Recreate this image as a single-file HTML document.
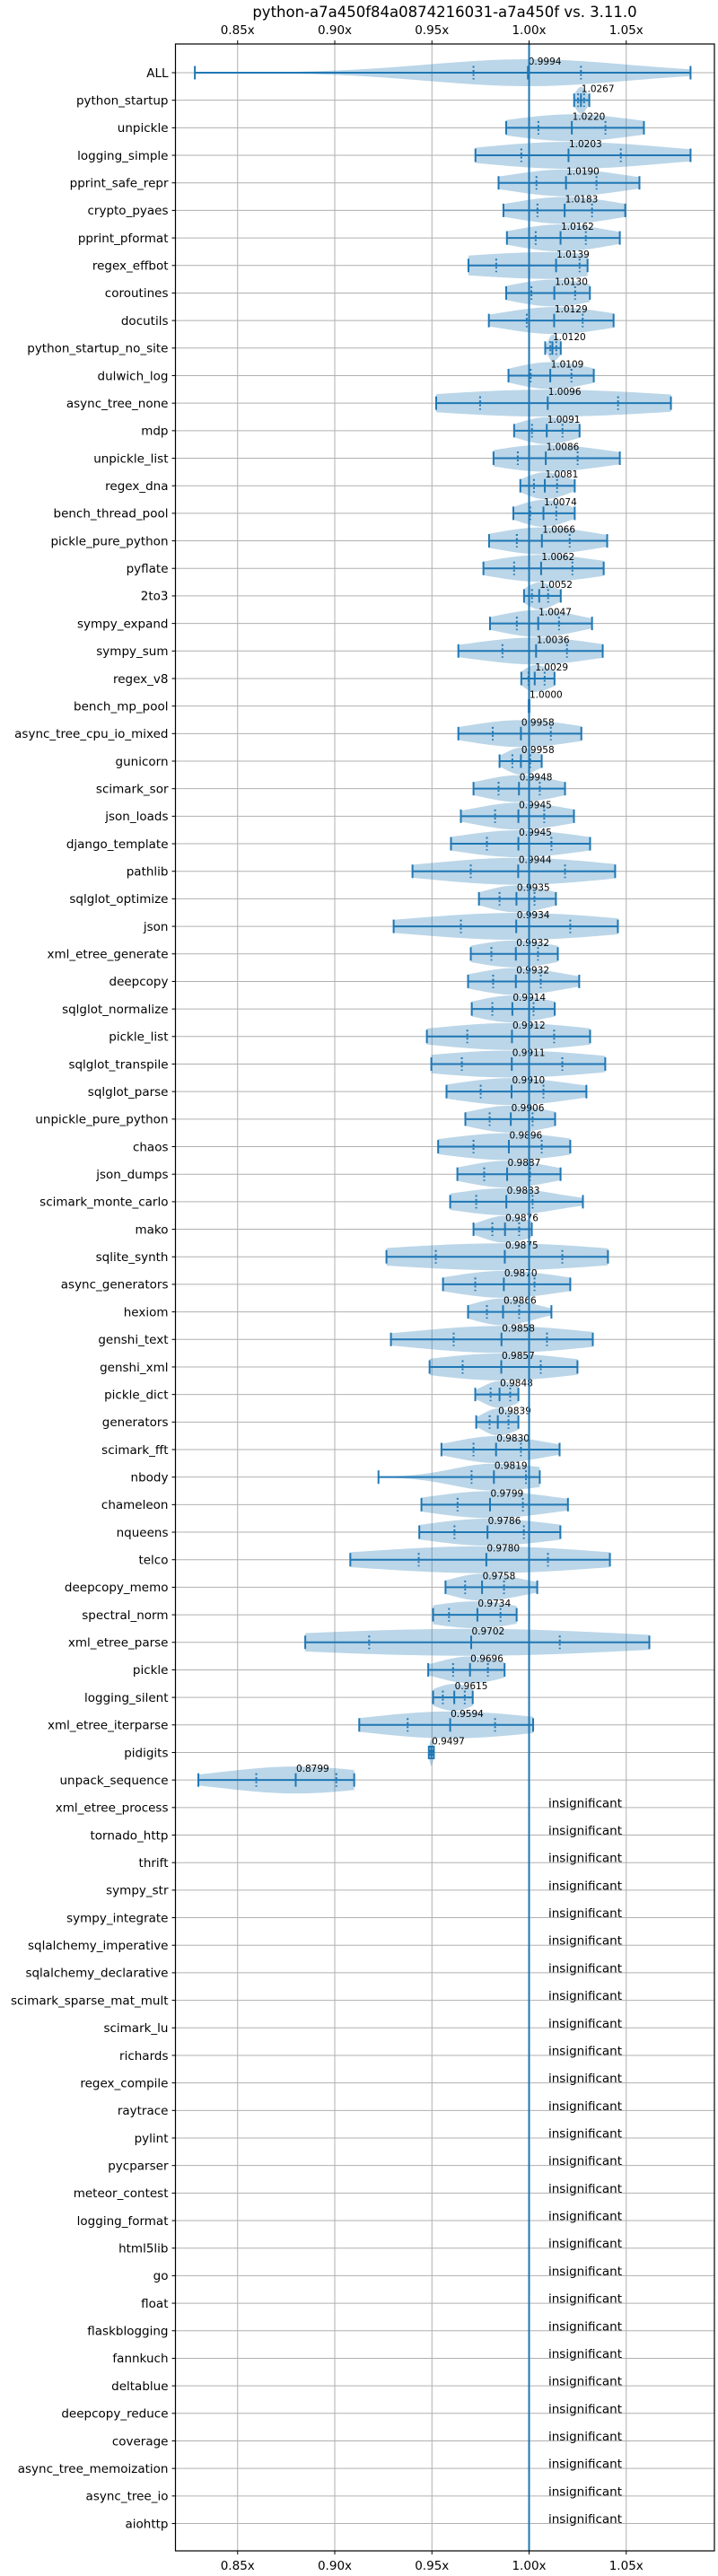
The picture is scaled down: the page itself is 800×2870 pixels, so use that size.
<!DOCTYPE html>
<html><head><meta charset="utf-8"><title>python-a7a450f84a0874216031-a7a450f vs. 3.11.0</title>
<style>
html,body{margin:0;padding:0;background:#fff;}
svg{display:block;font-family:"DejaVu Sans","Liberation Sans",sans-serif;}
</style></head>
<body>
<svg id="chart" xmlns="http://www.w3.org/2000/svg" width="800" height="2870" viewBox="0 0 800 2870">
<rect x="0" y="0" width="800" height="2870" fill="#fff"/>
<text x="495.5" y="19" font-size="16.5" text-anchor="middle" fill="#000">python-a7a450f84a0874216031-a7a450f vs. 3.11.0</text>
<g id="grid"></g>
<g id="violins"></g>
<g id="marks"></g>
<g id="axes"></g>
</svg>
<script>
const sigNames = ["ALL","python_startup","unpickle","logging_simple","pprint_safe_repr","crypto_pyaes","pprint_pformat","regex_effbot","coroutines","docutils","python_startup_no_site","dulwich_log","async_tree_none","mdp","unpickle_list","regex_dna","bench_thread_pool","pickle_pure_python","pyflate","2to3","sympy_expand","sympy_sum","regex_v8","bench_mp_pool","async_tree_cpu_io_mixed","gunicorn","scimark_sor","json_loads","django_template","pathlib","sqlglot_optimize","json","xml_etree_generate","deepcopy","sqlglot_normalize","pickle_list","sqlglot_transpile","sqlglot_parse","unpickle_pure_python","chaos","json_dumps","scimark_monte_carlo","mako","sqlite_synth","async_generators","hexiom","genshi_text","genshi_xml","pickle_dict","generators","scimark_fft","nbody","chameleon","nqueens","telco","deepcopy_memo","spectral_norm","xml_etree_parse","pickle","logging_silent","xml_etree_iterparse","pidigits","unpack_sequence"];
const medians = [0.9994,1.0267,1.0220,1.0203,1.0190,1.0183,1.0162,1.0139,1.0130,1.0129,1.0120,1.0109,1.0096,1.0091,1.0086,1.0081,1.0074,1.0066,1.0062,1.0052,1.0047,1.0036,1.0029,1.0000,0.9958,0.9958,0.9948,0.9945,0.9945,0.9944,0.9935,0.9934,0.9932,0.9932,0.9914,0.9912,0.9911,0.9910,0.9906,0.9896,0.9887,0.9883,0.9876,0.9875,0.9870,0.9866,0.9858,0.9857,0.9848,0.9839,0.9830,0.9819,0.9799,0.9786,0.9780,0.9758,0.9734,0.9702,0.9696,0.9615,0.9594,0.9497,0.8799];
const mins = [0.828,1.0232,0.9882,0.9724,0.9843,0.9868,0.9886,0.9688,0.9882,0.9793,1.0083,0.9894,0.9522,0.9923,0.9817,0.9955,0.9919,0.9794,0.9765,0.9974,0.9799,0.9636,0.9960,0.9998,0.9636,0.9848,0.9714,0.9649,0.9598,0.9400,0.9742,0.9303,0.9700,0.9686,0.9705,0.9474,0.9497,0.9575,0.9672,0.9532,0.9631,0.9594,0.9714,0.9266,0.9557,0.9686,0.9289,0.9488,0.9723,0.9728,0.9549,0.9225,0.9446,0.9435,0.9080,0.9570,0.9506,0.8848,0.9481,0.9506,0.9126,0.9484,0.8298];
const q1s = [0.9714,1.0252,1.0048,0.9960,1.0038,1.0043,1.0034,0.9831,1.0012,0.9988,1.0109,1.0008,0.9748,1.0015,0.9942,1.0025,1.0006,0.9937,0.9923,1.0015,0.9937,0.9863,0.9997,0.9999,0.9813,0.9914,0.9843,0.9825,0.9783,0.9700,0.9848,0.9649,0.9806,0.9815,0.9811,0.9682,0.9654,0.9751,0.9797,0.9714,0.9769,0.9728,0.9811,0.9520,0.9723,0.9783,0.9612,0.9658,0.9802,0.9797,0.9714,0.9704,0.9632,0.9616,0.9432,0.9671,0.9588,0.9177,0.9609,0.9556,0.9375,0.9492,0.8596];
const q3s = [1.0267,1.0283,1.0393,1.0472,1.0347,1.0324,1.0292,1.0260,1.0237,1.0276,1.0140,1.0218,1.0458,1.0172,1.0250,1.0144,1.0140,1.0209,1.0223,1.0098,1.0154,1.0195,1.0080,1.0001,1.0112,1.0006,1.0055,1.0078,1.0115,1.0185,1.0028,1.0212,1.0046,1.0060,1.0023,1.0129,1.0171,1.0074,1.0018,1.0065,1.0005,1.0018,0.9949,1.0171,1.0028,0.9949,1.0092,1.0060,0.9903,0.9894,0.9958,0.9984,0.9968,0.9973,1.0097,0.9871,0.9853,1.0158,0.9788,0.9669,0.9825,0.9502,0.9008];
const maxs = [1.0831,1.0310,1.0591,1.0831,1.0568,1.0495,1.0467,1.0301,1.0313,1.0435,1.0163,1.0333,1.0730,1.0260,1.0467,1.0235,1.0235,1.0402,1.0384,1.0163,1.0324,1.0379,1.0131,1.0002,1.0269,1.0065,1.0185,1.0231,1.0314,1.0443,1.0138,1.0457,1.0148,1.0258,1.0132,1.0314,1.0392,1.0295,1.0134,1.0212,1.0162,1.0277,1.0014,1.0406,1.0212,1.0115,1.0328,1.0249,0.9945,0.9945,1.0157,1.0055,1.0200,1.0161,1.0416,1.0042,0.9936,1.0619,0.9874,0.9710,1.0021,0.9510,0.9100];
const insigNames = ["xml_etree_process","tornado_http","thrift","sympy_str","sympy_integrate","sqlalchemy_imperative","sqlalchemy_declarative","scimark_sparse_mat_mult","scimark_lu","richards","regex_compile","raytrace","pylint","pycparser","meteor_contest","logging_format","html5lib","go","float","flaskblogging","fannkuch","deltablue","deepcopy_reduce","coverage","async_tree_memoization","async_tree_io","aiohttp"];
const xTickValues = [0.85,0.90,0.95,1.00,1.05];
const xTickLabels = ["0.85x","0.90x","0.95x","1.00x","1.05x"];

const NS = "http://www.w3.org/2000/svg";
const L = 195.5, R = 796, T = 49, B = 2842;
const BLUE = "#1f77b4";
function xs(v){ return 589.5 + (v - 1) * 2165; }
function ys(i){ return 81 + i * 30.68; }
function mk(tag, attrs, parent){
  const e = document.createElementNS(NS, tag);
  for (const k in attrs) e.setAttribute(k, attrs[k]);
  parent.appendChild(e);
  return e;
}
const grid = document.getElementById('grid');
const vg = document.getElementById('violins');
const mg = document.getElementById('marks');
const ag = document.getElementById('axes');
const allNames = sigNames.concat(insigNames);

xTickValues.forEach((v, i) => {
  const ln = mk('line', {x1: xs(v), x2: xs(v), y1: T, y2: B, stroke: '#b0b0b0', 'stroke-width': 1}, grid);
  
  
});
allNames.forEach((n, i) => {
  const ln = mk('line', {x1: L, x2: R, y1: ys(i), y2: ys(i), stroke: '#b0b0b0', 'stroke-width': 1}, grid);
  
  
});

const W = 15, CAP = 7.5;
sigNames.forEach((n, i) => {
  const y = ys(i);
  const mn = mins[i], mx = maxs[i], md = medians[i], a = q1s[i], b = q3s[i];
  const sl = Math.max(1.25 * (md - a) / 0.674, 1e-5), sr = Math.max(1.25 * (b - md) / 0.674, 1e-5);
  const N = 80, top = [], bot = [];
  for (let k = 0; k <= N; k++) {
    const v = mn + (mx - mn) * k / N;
    const s = v < md ? sl : sr;
    const w = W * Math.exp(-0.5 * Math.pow((v - md) / s, 2));
    top.push(xs(v).toFixed(2) + ',' + (y - w).toFixed(2));
    bot.unshift(xs(v).toFixed(2) + ',' + (y + w).toFixed(2));
  }
  const poly = mk('polygon', {points: top.concat(bot).join(' '), fill: BLUE, 'fill-opacity': 0.3}, vg);
  
  

  const g = mk('g', {stroke: BLUE, 'stroke-width': 2}, mg);
  
  
  mk('line', {x1: xs(mn), x2: xs(mx), y1: y, y2: y}, g);
  [mn, mx, md].forEach(v => mk('line', {x1: xs(v), x2: xs(v), y1: y - CAP, y2: y + CAP}, g));
  [a, b].forEach(v => mk('line', {x1: xs(v), x2: xs(v), y1: y - CAP, y2: y + CAP, 'stroke-dasharray': '2,2.5'}, g));

  const t = mk('text', {x: xs(md) + 0.5, y: y - 9, 'font-size': 10.5, fill: '#000'}, mg);
  t.textContent = md.toFixed(4);
  
  
});
insigNames.forEach((n, j) => {
  const y = ys(sigNames.length + j);
  const t = mk('text', {x: 611, y: y - 0.5, 'font-size': 13.5, fill: '#000'}, mg);
  t.textContent = 'insignificant';
  
  
});

const ref = mk('line', {x1: xs(1), x2: xs(1), y1: T, y2: B, stroke: BLUE, 'stroke-width': 2}, mg);



const frame = mk('rect', {x: L, y: T, width: R - L, height: B - T, fill: 'none', stroke: '#000', 'stroke-width': 1.2}, ag);



xTickValues.forEach((v, i) => {
  const x = xs(v);
  mk('line', {x1: x, x2: x, y1: T, y2: T - 4, stroke: '#000', 'stroke-width': 1}, ag);
  mk('line', {x1: x, x2: x, y1: B, y2: B + 4, stroke: '#000', 'stroke-width': 1}, ag);
  const tt = mk('text', {x: x, y: 38, 'font-size': 13.5, 'text-anchor': 'middle', fill: '#000'}, ag);
  tt.textContent = xTickLabels[i];
  
  
  const tb = mk('text', {x: x, y: 2863, 'font-size': 13.5, 'text-anchor': 'middle', fill: '#000'}, ag);
  tb.textContent = xTickLabels[i];
  
  
});

allNames.forEach((n, i) => {
  const y = ys(i);
  mk('line', {x1: L, x2: L - 4, y1: y, y2: y, stroke: '#000', 'stroke-width': 1}, ag);
  const t = mk('text', {x: L - 8, y: y + 4.8, 'font-size': 13.5, 'text-anchor': 'end', fill: '#000'}, ag);
  t.textContent = n;
  
  
});
</script>
</body></html>
